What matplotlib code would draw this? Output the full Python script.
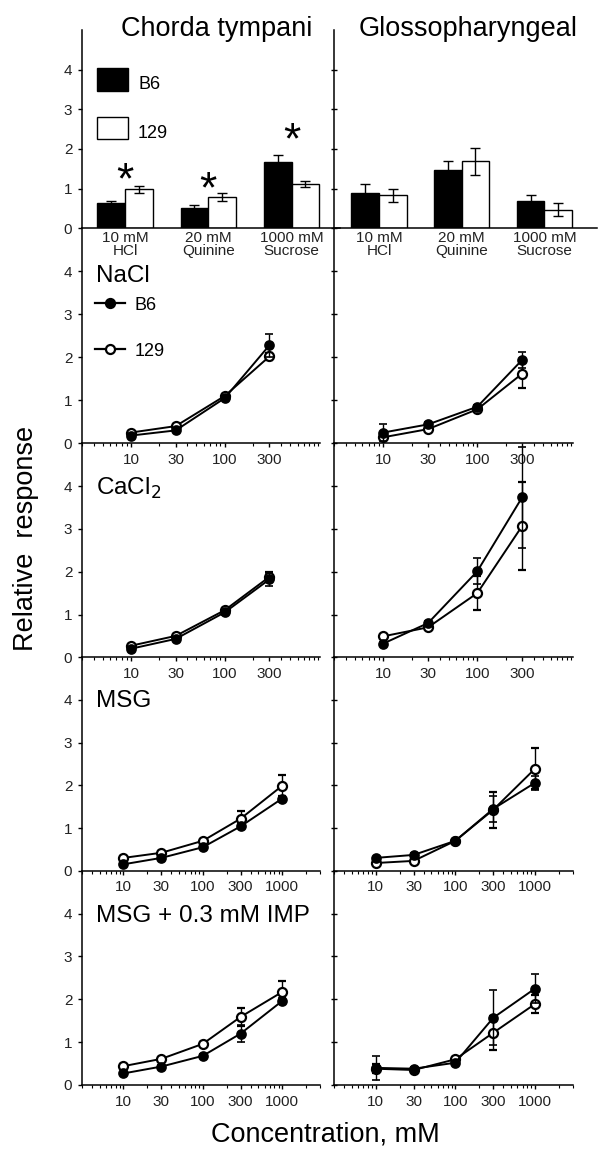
import matplotlib
matplotlib.use("Agg")
import matplotlib.pyplot as plt
from matplotlib.patches import Rectangle
from matplotlib.lines import Line2D
from matplotlib.ticker import FixedLocator, LogLocator, NullFormatter
import numpy as np

plt.rcParams['font.family'] = ['Liberation Sans', 'DejaVu Sans']

# ---------------- data ----------------
bar_categories = ["10 mM\nHCl", "20 mM\nQuinine", "1000 mM\nSucrose"]
ct_bar_b6 = [0.64, 0.52, 1.66]
ct_bar_b6_err = [0.05, 0.08, 0.19]
ct_bar_129 = [0.98, 0.79, 1.12]
ct_bar_129_err = [0.08, 0.09, 0.08]
gl_bar_b6 = [0.90, 1.47, 0.70]
gl_bar_b6_err = [0.22, 0.22, 0.14]
gl_bar_129 = [0.83, 1.69, 0.47]
gl_bar_129_err = [0.16, 0.34, 0.16]
star_heights = [1.16, 0.94, 2.17]

conc4 = [10, 30, 100, 300]
conc5 = [10, 30, 100, 300, 1000]
tick4 = ["10", "30", "100", "300"]
tick5 = ["10", "30", "100", "300", "1000"]

nacl_ct_b6 = [0.18, 0.30, 1.05, 2.28]
nacl_ct_b6_err = [0.03, 0.03, 0.04, 0.27]
nacl_ct_129 = [0.25, 0.40, 1.10, 2.02]
nacl_ct_129_err = [0.04, 0.04, 0.05, 0.08]
nacl_gl_b6 = [0.25, 0.44, 0.85, 1.94]
nacl_gl_b6_err = [0.20, 0.05, 0.05, 0.18]
nacl_gl_129 = [0.14, 0.33, 0.79, 1.62]
nacl_gl_129_err = [0.05, 0.05, 0.05, 0.33]

cacl_ct_b6 = [0.20, 0.43, 1.05, 1.82]
cacl_ct_b6_err = [0.03, 0.04, 0.05, 0.15]
cacl_ct_129 = [0.27, 0.50, 1.10, 1.88]
cacl_ct_129_err = [0.04, 0.04, 0.05, 0.12]
cacl_gl_b6 = [0.32, 0.80, 2.01, 3.74]
cacl_gl_b6_err = [0.04, 0.05, 0.30, 1.18]
cacl_gl_129 = [0.49, 0.70, 1.50, 3.07]
cacl_gl_129_err = [0.04, 0.05, 0.40, 1.03]

msg_ct_b6 = [0.15, 0.30, 0.55, 1.04, 1.69]
msg_ct_b6_err = [0.03, 0.03, 0.04, 0.05, 0.07]
msg_ct_129 = [0.30, 0.42, 0.70, 1.22, 1.99]
msg_ct_129_err = [0.04, 0.04, 0.05, 0.17, 0.25]
msg_gl_b6 = [0.30, 0.37, 0.70, 1.45, 2.06]
msg_gl_b6_err = [0.03, 0.04, 0.05, 0.30, 0.17]
msg_gl_129 = [0.18, 0.23, 0.70, 1.43, 2.39]
msg_gl_129_err = [0.03, 0.04, 0.05, 0.42, 0.48]

imp_ct_b6 = [0.27, 0.43, 0.68, 1.20, 1.96]
imp_ct_b6_err = [0.03, 0.04, 0.05, 0.19, 0.06]
imp_ct_129 = [0.44, 0.61, 0.96, 1.59, 2.17]
imp_ct_129_err = [0.04, 0.05, 0.05, 0.21, 0.26]
imp_gl_b6 = [0.40, 0.38, 0.52, 1.57, 2.25]
imp_gl_b6_err = [0.28, 0.04, 0.05, 0.64, 0.33]
imp_gl_129 = [0.38, 0.35, 0.60, 1.22, 1.89]
imp_gl_129_err = [0.10, 0.04, 0.05, 0.40, 0.20]

# ---------------- layout ----------------
W, H = 612, 1156
fig = plt.figure(figsize=(W / 100, H / 100), dpi=100)


def rect(x0, y0, x1, y1):
    return [x0 / W, 1 - y1 / H, (x1 - x0) / W, (y1 - y0) / H]


TICK_COLOR = '#222222'


def style_axes(ax, labels_left, right_col):
    for s in ['top', 'right']:
        ax.spines[s].set_visible(False)
    ax.spines['left'].set_linewidth(1.1)
    ax.spines['bottom'].set_linewidth(1.1)
    ax.set_ylim(0, 5)
    ax.set_yticks([0, 1, 2, 3, 4])
    if labels_left:
        ax.set_yticklabels(['0', '1', '2', '3', '4'])
    else:
        ax.set_yticklabels([])
    ax.tick_params(axis='y', direction='inout' if right_col else 'out',
                   length=5 if right_col else 3, width=1, labelsize=11,
                   labelcolor=TICK_COLOR, pad=4)
    ax.patch.set_alpha(0)


# bar panels
bar_specs = [
    (rect(82, 30, 340, 228.3), (-0.516, 2.581), ct_bar_b6, ct_bar_b6_err, ct_bar_129, ct_bar_129_err, True),
    (rect(334, 30, 597, 228.3), (-0.544, 2.636), gl_bar_b6, gl_bar_b6_err, gl_bar_129, gl_bar_129_err, False),
]
bar_axes = []
for r, xl, b6, b6e, w, we, left in bar_specs:
    ax = fig.add_axes(r)
    style_axes(ax, left, not left)
    x = np.arange(len(bar_categories))
    bw = 0.333
    ax.bar(x - bw / 2, b6, bw, color='black', edgecolor='black', linewidth=1, zorder=2)
    ax.bar(x + bw / 2, w, bw, color='white', edgecolor='black', linewidth=1, zorder=2)
    ax.errorbar(x - bw / 2, b6, yerr=b6e, fmt='none', ecolor='black', elinewidth=1,
                capsize=3.5, capthick=1, zorder=3)
    ax.errorbar(x + bw / 2, w, yerr=we, fmt='none', ecolor='black', elinewidth=1,
                capsize=3.5, capthick=1, zorder=3)
    ax.set_xlim(*xl)
    ax.set_xticks(x)
    ax.set_xticklabels(bar_categories, fontsize=11, linespacing=0.88, color=TICK_COLOR)
    ax.tick_params(axis='x', length=0, pad=2)
    bar_axes.append(ax)

# significance stars
for i, sy in enumerate(star_heights):
    bar_axes[0].text(i, sy, '*', ha='center', va='center', fontsize=32, color='black')

# line panels
rows = [(228.3, 443.3), (443.3, 657.3), (657.3, 870.7), (870.7, 1085)]
line_sets = [
    (conc4, tick4, (3, 1040), (nacl_ct_b6, nacl_ct_b6_err, nacl_ct_129, nacl_ct_129_err),
     (nacl_gl_b6, nacl_gl_b6_err, nacl_gl_129, nacl_gl_129_err)),
    (conc4, tick4, (3, 1040), (cacl_ct_b6, cacl_ct_b6_err, cacl_ct_129, cacl_ct_129_err),
     (cacl_gl_b6, cacl_gl_b6_err, cacl_gl_129, cacl_gl_129_err)),
    (conc5, tick5, (3, 3000), (msg_ct_b6, msg_ct_b6_err, msg_ct_129, msg_ct_129_err),
     (msg_gl_b6, msg_gl_b6_err, msg_gl_129, msg_gl_129_err)),
    (conc5, tick5, (3, 3000), (imp_ct_b6, imp_ct_b6_err, imp_ct_129, imp_ct_129_err),
     (imp_gl_b6, imp_gl_b6_err, imp_gl_129, imp_gl_129_err)),
]

line_axes = []
for (y0, y1), (conc, tl, xl, ct, gl) in zip(rows, line_sets):
    row_axes = []
    for (x0, x1), data, left in [((82, 320), ct, True), ((334, 573), gl, False)]:
        ax = fig.add_axes(rect(x0, y0, x1, y1))
        style_axes(ax, left, not left)
        ax.set_xscale('log')
        ax.set_xlim(*xl)
        b6, b6e, w, we = data
        ax.errorbar(conc, w, yerr=we, fmt='-o', color='black', lw=1.4, ms=6.5,
                    mfc='white', mec='black', mew=1.6, elinewidth=1, capsize=2.8,
                    capthick=1, zorder=3, clip_on=False)
        ax.errorbar(conc, b6, yerr=b6e, fmt='-o', color='black', lw=1.4, ms=6.5,
                    mfc='black', mec='black', mew=1.2, elinewidth=1, capsize=2.8,
                    capthick=1, zorder=4, clip_on=False)
        ax.xaxis.set_major_locator(FixedLocator(conc))
        ax.set_xticklabels(tl)
        ax.xaxis.set_minor_locator(LogLocator(base=10, subs=np.arange(1, 10)))
        ax.xaxis.set_minor_formatter(NullFormatter())
        ax.tick_params(axis='x', which='major', direction='out', length=3, width=1,
                       labelsize=11, labelcolor=TICK_COLOR, pad=4)
        ax.tick_params(axis='x', which='minor', direction='out', length=2.5, width=0.8)
        row_axes.append(ax)
    line_axes.append(row_axes)


def ftext(x, y, s, **kw):
    fig.text(x / W, 1 - y / H, s, **kw)


# titles
ftext(216.5, 36, 'Chorda tympani', ha='center', va='baseline', fontsize=19.5)
ftext(468.3, 36, 'Glossopharyngeal', ha='center', va='baseline', fontsize=19.5)

# panel labels
ftext(96.5, 281.7, 'NaCl', ha='left', va='baseline', fontsize=17.5)
ftext(96.5, 495, r'CaCl$_2$', ha='left', va='baseline', fontsize=17.5)
ftext(96.5, 707.3, 'MSG', ha='left', va='baseline', fontsize=17.5)
ftext(96.5, 921.7, 'MSG + 0.3 mM IMP', ha='left', va='baseline', fontsize=17.5)

# axis labels
ftext(26, 538, 'Relative  response', ha='center', va='center', rotation=90, fontsize=19.5)
ftext(325, 1141.7, 'Concentration, mM', ha='center', va='baseline', fontsize=19.5)

# bar legend
fig.patches.append(Rectangle((97 / W, 1 - 91 / H), 31 / W, 23 / H, transform=fig.transFigure,
                             facecolor='black', edgecolor='black', lw=1))
fig.patches.append(Rectangle((97 / W, 1 - 139 / H), 31 / W, 22 / H, transform=fig.transFigure,
                             facecolor='white', edgecolor='black', lw=1))
ftext(138, 89.3, 'B6', ha='left', va='baseline', fontsize=13)
ftext(138, 138.3, '129', ha='left', va='baseline', fontsize=13)

# line legend (NaCl panel)
for yy, fc, lab in [(303, 'black', 'B6'), (349, 'white', '129')]:
    fig.lines.append(Line2D([95 / W, 125 / W], [1 - yy / H, 1 - yy / H], transform=fig.transFigure,
                            color='black', lw=1.6))
    fig.lines.append(Line2D([110 / W], [1 - yy / H], transform=fig.transFigure, marker='o',
                            ms=6.5, mfc=fc, mec='black', mew=1.6, lw=0))
    ftext(135, yy + 6.5, lab, ha='left', va='baseline', fontsize=13)

fig.savefig('out.png', dpi=100, facecolor='white')
